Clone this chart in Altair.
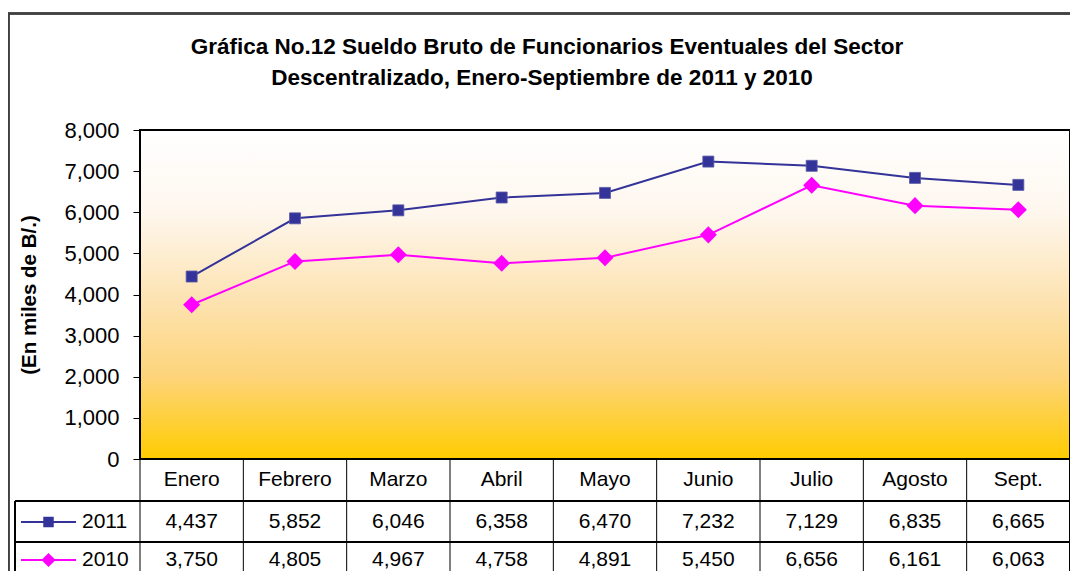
import altair as alt
import pandas as pd

months = ["Enero", "Febrero", "Marzo", "Abril", "Mayo", "Junio", "Julio", "Agosto", "Sept."]
vals_2011 = [4437, 5852, 6046, 6358, 6470, 7232, 7129, 6835, 6665]
vals_2010 = [3750, 4805, 4967, 4758, 4891, 5450, 6656, 6161, 6063]
series = ["2011", "2010"]
series_colors = ["#333399", "#FF00FF"]
y_ticks = [0, 1000, 2000, 3000, 4000, 5000, 6000, 7000, 8000]
title_lines = [
    "Gráfica No.12 Sueldo Bruto de Funcionarios Eventuales del Sector",
    "Descentralizado,  Enero-Septiembre de 2011 y 2010",
]
y_title = "(En miles de B/.)"

W, H = 930, 329
FONT = "Liberation Sans"

rows = []
for m, a, b in zip(months, vals_2011, vals_2010):
    rows.append({"month": m, "year": "2011", "value": a})
    rows.append({"month": m, "year": "2010", "value": b})
df = pd.DataFrame(rows)
mdf = pd.DataFrame({"month": months})

xscale = alt.Scale(type="band", domain=months, paddingInner=0, paddingOuter=0)
xc = alt.X("month:N", scale=xscale, axis=None, bandPosition=0.5)
xb = alt.X("month:N", scale=xscale, axis=None, bandPosition=0)
yscale = alt.Scale(domain=[0, 8000], nice=False, zero=True)
color = alt.Color("year:N", scale=alt.Scale(domain=series, range=series_colors), legend=None)

base = alt.Chart(df)

# background gradient of plot area
bg = alt.Chart(mdf).mark_rect(
    color=alt.Gradient(
        gradient="linear", x1=0, x2=0, y1=0, y2=1,
        stops=[
            alt.GradientStop(color="#FFFFFF", offset=0),
            alt.GradientStop(color="#FEF7EE", offset=0.25),
            alt.GradientStop(color="#FDE4B5", offset=0.5),
            alt.GradientStop(color="#FDD47A", offset=0.75),
            alt.GradientStop(color="#FFCC00", offset=1),
        ],
    )
).encode(x=alt.value(0), x2=alt.value(W), y=alt.value(0), y2=alt.value(H))

yaxis = alt.Axis(
    values=y_ticks, format=",.0f", labelFontSize=22, labelColor="#000", labelFont=FONT,
    tickColor="#000", tickSize=7, labelPadding=14, domain=False, grid=False,
    title=y_title, titleFont=FONT, titleFontSize=20.5, titleFontWeight="bold", titleColor="#000",
    titleX=-111, titleY=H / 2, titleAngle=270, titleAlign="center", titleBaseline="middle",
)

lines = base.mark_line(strokeWidth=2).encode(
    x=xc, y=alt.Y("value:Q", scale=yscale, axis=yaxis), color=color
)
pts_2011 = base.transform_filter(alt.datum.year == "2011").mark_point(
    shape="square", filled=True, size=121, color="#333399", opacity=1, stroke="#5a5aaa", strokeWidth=0.8
).encode(x=xc, y=alt.Y("value:Q", scale=yscale))
pts_2010 = base.transform_filter(alt.datum.year == "2010").mark_point(
    shape="diamond", filled=True, size=290, color="#FF00FF", opacity=1
).encode(x=xc, y=alt.Y("value:Q", scale=yscale))

# plot frame
frame = alt.Chart(mdf).mark_rect(fill=None, stroke="#000", strokeWidth=2).encode(
    x=alt.value(0), x2=alt.value(W), y=alt.value(0), y2=alt.value(H)
)

# outer chart border
outer = alt.Chart(mdf).mark_rect(fill=None, stroke="#404040", strokeWidth=1.5).encode(
    x=alt.value(-131.5), x2=alt.value(W + 60), y=alt.value(-116.5), y2=alt.value(H + 200)
)

# titles
tdf = pd.DataFrame({"t": title_lines, "i": [0, 1]})
title1 = alt.Chart(tdf).transform_filter(alt.datum.i == 0).mark_text(
    font=FONT, fontSize=22.5, fontWeight="bold", color="#000", baseline="middle"
).encode(text="t:N", x=alt.value(407), y=alt.value(-83))
title2 = alt.Chart(tdf).transform_filter(alt.datum.i == 1).mark_text(
    font=FONT, fontSize=22.5, fontWeight="bold", color="#000", baseline="middle"
).encode(text="t:N", x=alt.value(402), y=alt.value(-52))

# data table
ROW_H, ROW_A, ROW_B = 350, 392, 430
header = alt.Chart(mdf).mark_text(font=FONT, fontSize=21, color="#000", baseline="middle").encode(
    x=xc, y=alt.value(ROW_H), text="month:N"
)
txt_a = base.transform_filter(alt.datum.year == "2011").mark_text(
    font=FONT, fontSize=21, color="#000", baseline="middle"
).encode(x=xc, y=alt.value(ROW_A), text=alt.Text("value:Q", format=",.0f"))
txt_b = base.transform_filter(alt.datum.year == "2010").mark_text(
    font=FONT, fontSize=21, color="#000", baseline="middle"
).encode(x=xc, y=alt.value(ROW_B), text=alt.Text("value:Q", format=",.0f"))

vlines = alt.Chart(mdf).mark_rule(color="#000", strokeWidth=1).encode(
    x=xb, y=alt.value(H), y2=alt.value(H + 150)
)
vright = alt.Chart(mdf).mark_rule(color="#000", strokeWidth=1).encode(
    x=alt.value(W), y=alt.value(H), y2=alt.value(H + 150)
)
vleft = alt.Chart(mdf).mark_rule(color="#000", strokeWidth=1).encode(
    x=alt.value(-125), y=alt.value(371), y2=alt.value(H + 150)
)
hline1 = alt.Chart(mdf).mark_rule(color="#000", strokeWidth=1).encode(
    x=alt.value(-125), x2=alt.value(W), y=alt.value(371)
)
hline2 = alt.Chart(mdf).mark_rule(color="#000", strokeWidth=1).encode(
    x=alt.value(-125), x2=alt.value(W), y=alt.value(412)
)

# legend keys in the table
sdf = pd.DataFrame({"year": series, "i": [0, 1]})
leg_a_line = alt.Chart(sdf).transform_filter(alt.datum.i == 0).mark_rule(color="#333399", strokeWidth=2).encode(
    x=alt.value(-119), x2=alt.value(-64), y=alt.value(ROW_A)
)
leg_b_line = alt.Chart(sdf).transform_filter(alt.datum.i == 1).mark_rule(color="#FF00FF", strokeWidth=2).encode(
    x=alt.value(-119), x2=alt.value(-64), y=alt.value(ROW_B)
)
leg_a_pt = alt.Chart(sdf).transform_filter(alt.datum.i == 0).mark_point(
    shape="square", filled=True, size=110, color="#333399", opacity=1
).encode(x=alt.value(-91.5), y=alt.value(ROW_A))
leg_b_pt = alt.Chart(sdf).transform_filter(alt.datum.i == 1).mark_point(
    shape="diamond", filled=True, size=200, color="#FF00FF", opacity=1
).encode(x=alt.value(-91.5), y=alt.value(ROW_B))
leg_a_txt = alt.Chart(sdf).transform_filter(alt.datum.i == 0).mark_text(
    font=FONT, fontSize=21, color="#000", align="left", baseline="middle"
).encode(x=alt.value(-58), y=alt.value(ROW_A), text="year:N")
leg_b_txt = alt.Chart(sdf).transform_filter(alt.datum.i == 1).mark_text(
    font=FONT, fontSize=21, color="#000", align="left", baseline="middle"
).encode(x=alt.value(-58), y=alt.value(ROW_B), text="year:N")

chart = alt.layer(
    bg, lines, pts_2011, pts_2010, frame, outer, title1, title2,
    header, txt_a, txt_b, vlines, vright, vleft, hline1, hline2,
    leg_a_line, leg_b_line, leg_a_pt, leg_b_pt, leg_a_txt, leg_b_txt,
).properties(
    width=W, height=H,
    autosize=alt.AutoSizeParams(type="none"),
    padding={"left": 132, "top": 122, "right": 0, "bottom": 112},
    background="#FFFFFF",
).configure_view(stroke=None).configure(font=FONT)

chart.save("out.html", embed_options={"renderer": "svg", "actions": False})
